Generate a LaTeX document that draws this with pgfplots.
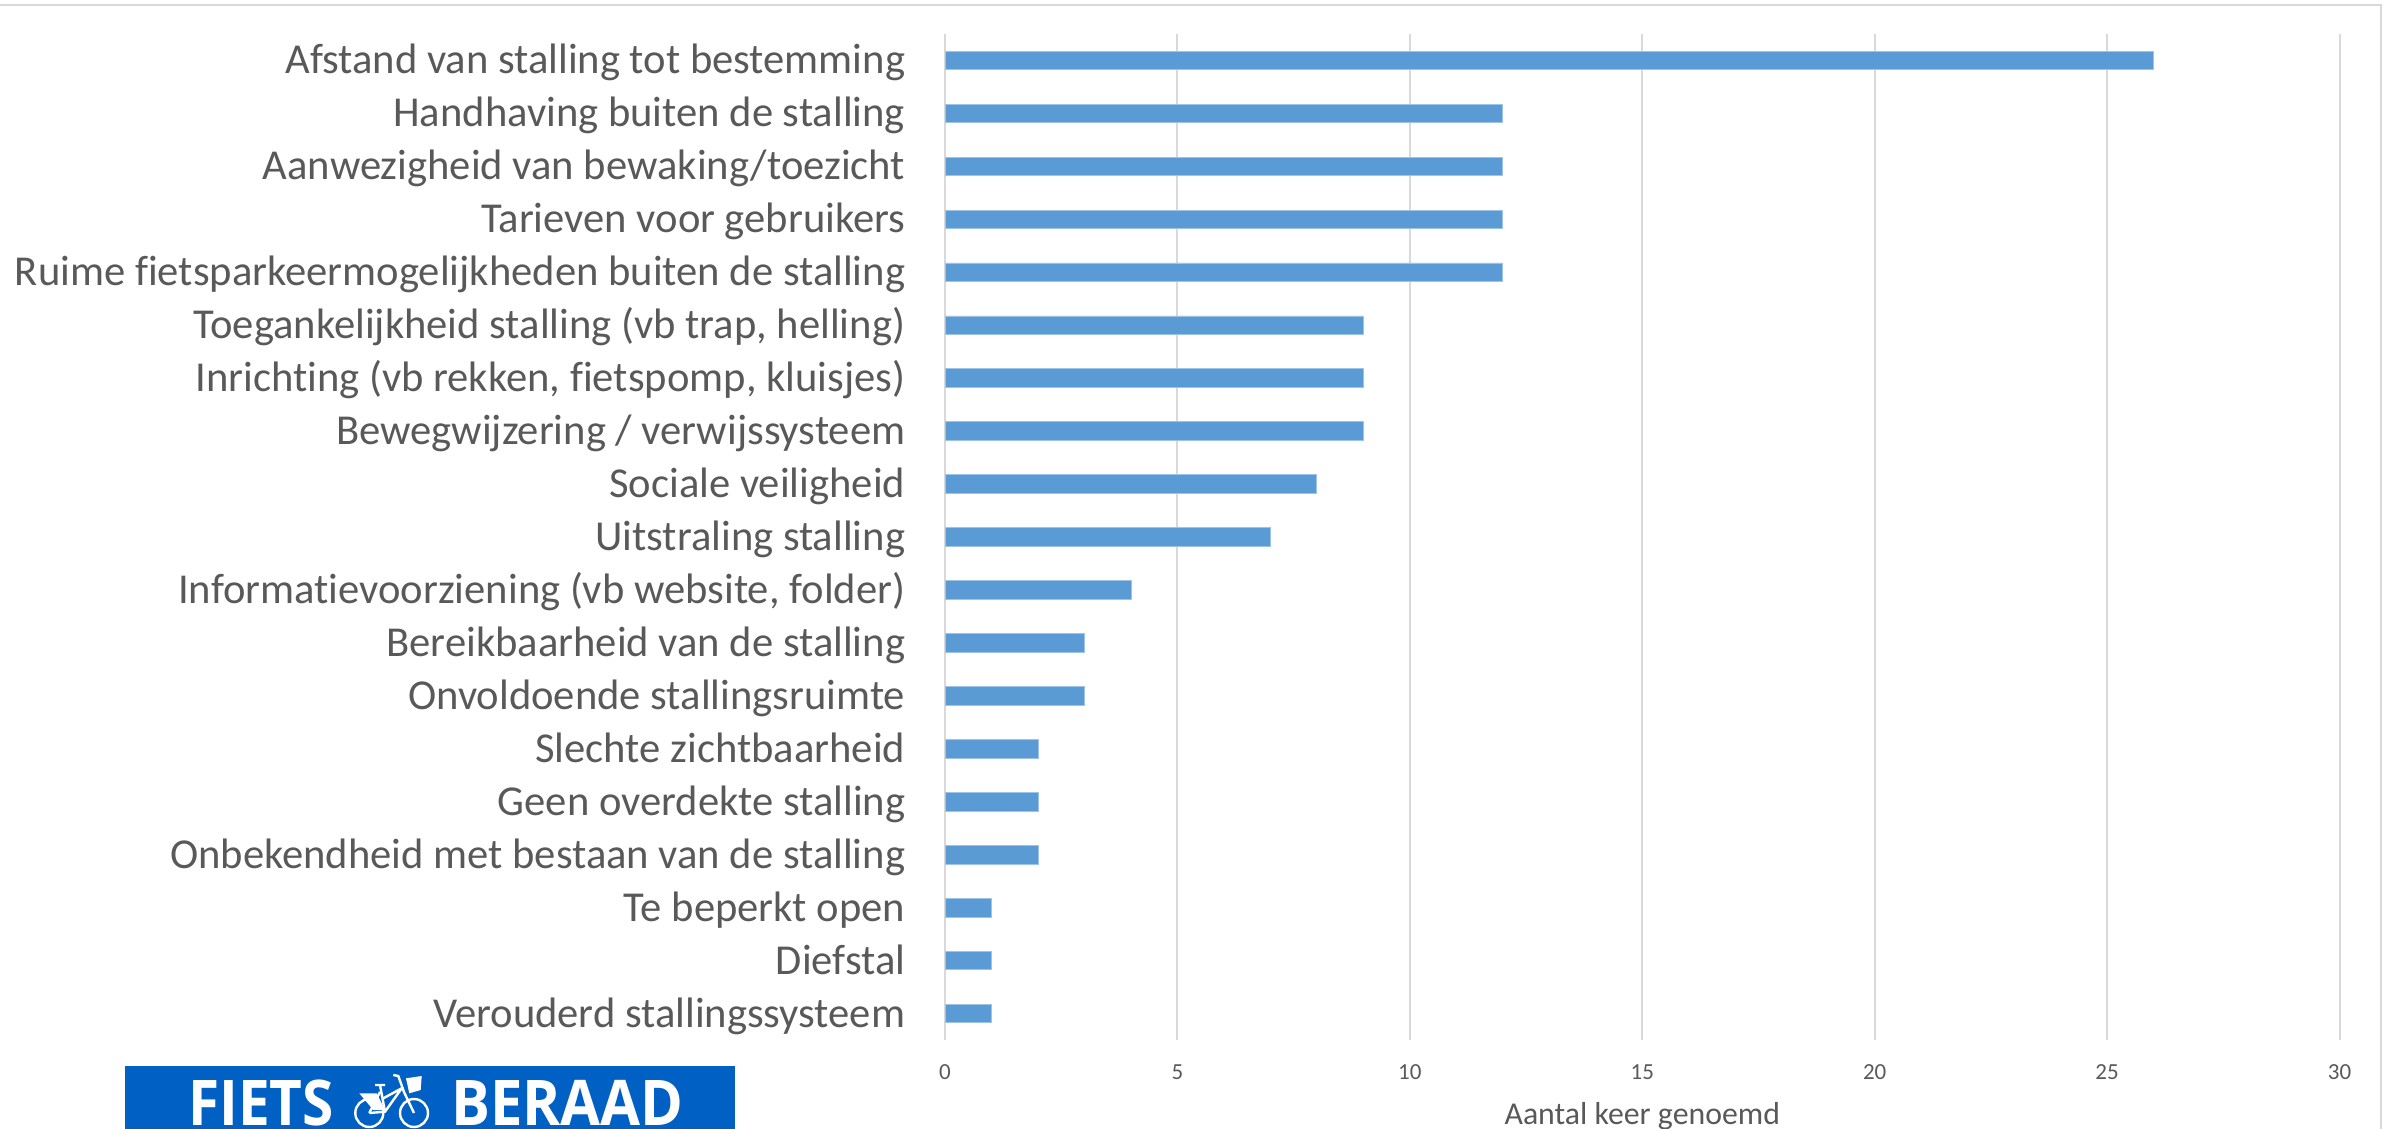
\documentclass[border=0pt]{standalone}
\usepackage{pgfplots}
\pgfplotsset{compat=1.18}
\usepackage{fontspec}
\setmainfont[Ligatures=NoCommon]{Carlito}
\newfontfamily\logofont{Open Sans}
\definecolor{barblue}{HTML}{5B9BD5}
\definecolor{gridgray}{HTML}{D9D9D9}
\definecolor{txtgray}{HTML}{595959}
\definecolor{logoblue}{HTML}{0060C4}
\begin{document}
\begin{tikzpicture}
  \useasboundingbox (0pt,0pt) rectangle (2389pt,1128pt);
  \clip (0pt,0pt) rectangle (2389pt,1128pt);
  % frame around the slide
  \draw[gridgray, line width=2.5pt] (-5pt,1123pt) -- (2381pt,1123pt) -- (2381pt,-5pt);
  % logo
  \fill[logoblue] (125pt,-5pt) rectangle (735pt,62pt);
  \node[white, anchor=base west, inner sep=0pt, xscale=0.9, font=\logofont\fontsize{63}{63}\selectfont\bfseries] at (188pt,3pt) {FIETS};
  \node[white, anchor=base west, inner sep=0pt, xscale=0.92, font=\logofont\fontsize{63}{63}\selectfont\bfseries] at (451pt,3pt) {BERAAD};
  \begin{scope}[x=1pt, y=1pt, white, line width=2.4pt, shift={(392pt,0pt)}]
    \draw (-22.7,15) circle (14);
    \draw (22,15) circle (14);
    \draw (-22.7,15) -- (-7,16.3) -- (9.7,39.7) (-8.7,29.7) -- (9.7,39.7);
    \draw (-12,43) -- (-7,16.3) (-17,43) -- (-7,43);
    \draw (-22.7,15) -- (-12,36);
    \draw (1.3,53) -- (6.3,52) -- (12,36) -- (22,15);
    \fill (-32.7,34.7) -- (-15.3,34.7) -- (-7,18) -- (-18.7,18) -- cycle;
    \fill (14,49.7) -- (29.7,52) -- (28.7,38) -- (17.3,34.7) -- cycle;
  \end{scope}
  \begin{axis}[
    at={(945pt,88pt)},
    scale only axis,
    width=1394.5pt, height=1006pt,
    xbar, bar width=18.6pt,
    xmin=0, xmax=30, ymin=-0.5, ymax=18.5,
    y dir=reverse,
    xmajorgrids=true,
    grid style={gridgray, line width=2pt},
    axis line style={draw=none},
    tick style={draw=none},
    xtick={0,5,10,15,20,25,30},
    ytick={0,...,18},
    yticklabels={
      Afstand van stalling tot bestemming,
      Handhaving buiten de stalling,
      Aanwezigheid van bewaking/toezicht,
      Tarieven voor gebruikers,
      Ruime fietsparkeermogelijkheden buiten de stalling,
      {Toegankelijkheid stalling (vb trap, helling)},
      {Inrichting (vb rekken, fietspomp, kluisjes)},
      Bewegwijzering / verwijssysteem,
      Sociale veiligheid,
      Uitstraling stalling,
      {Informatievoorziening (vb website, folder)},
      Bereikbaarheid van de stalling,
      Onvoldoende stallingsruimte,
      Slechte zichtbaarheid,
      Geen overdekte stalling,
      Onbekendheid met bestaan van de stalling,
      Te beperkt open,
      Diefstal,
      Verouderd stallingssysteem},
    /pgf/number format/assume math mode=true,
    yticklabel style={font=\fontsize{42.6}{42.6}\selectfont, text=txtgray, anchor=east, xshift=-32pt, text height=28pt, text depth=9pt, yshift=-4pt},
    xticklabel style={font=\fontsize{23}{23}\selectfont, text=txtgray, yshift=-21pt},
    xlabel={Aantal keer genoemd},
    xlabel style={font=\fontsize{31.8}{31.8}\selectfont, text=txtgray},
    xlabel shift=16pt,
  ]
  \addplot[fill=barblue, draw=barblue!60!white, line width=0.8pt] coordinates {
    (26,0)(12,1)(12,2)(12,3)(12,4)(9,5)(9,6)(9,7)(8,8)(7,9)
    (4,10)(3,11)(3,12)(2,13)(2,14)(2,15)(1,16)(1,17)(1,18)};
  \end{axis}
\end{tikzpicture}
\end{document}
